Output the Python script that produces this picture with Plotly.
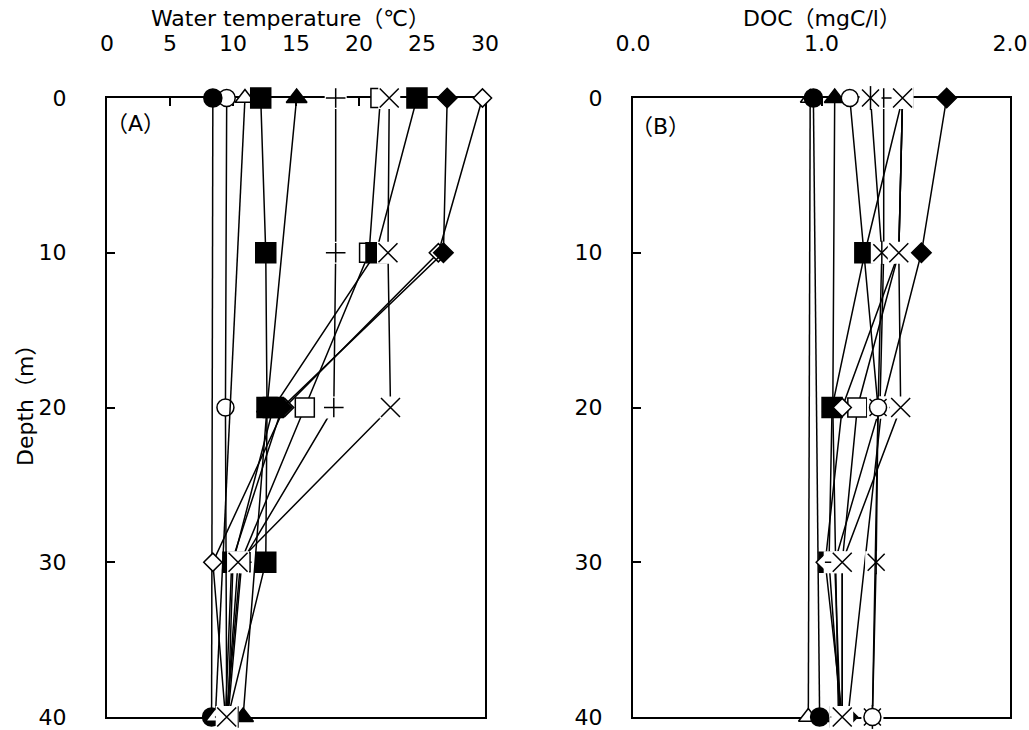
import plotly.graph_objects as go

# ---------------- data ----------------
depth = [0, 10, 20, 30, 40]

# Panel A : water temperature (deg C) at each depth (None = not measured)
temp_open_circle = [9.5, None, 9.4, None, 9.5]
temp_filled_circle = [8.4, None, None, None, 8.3]
temp_open_triangle = [10.95, None, None, None, 8.6]
temp_filled_triangle = [15.05, None, 12.7, None, 10.8]
temp_filled_square1 = [12.2, 12.6, 12.7, 12.6, 9.6]
temp_open_diamond = [29.8, 26.3, 14.1, 8.4, 9.4]
temp_filled_diamond = [27.0, 26.7, 13.9, 9.9, 9.4]
temp_plus = [18.15, 18.15, 18.0, 10.7, 9.6]
temp_open_square = [21.7, 20.8, 15.7, 10.6, 9.5]
temp_filled_square2 = [24.6, 21.35, 13.2, 10.0, 9.6]
temp_x = [22.4, 22.3, 22.5, 10.4, 9.5]

# Panel B : DOC (mgC/l)
doc_open_triangle = [0.94, None, None, None, 0.93]
doc_filled_circle = [0.957, None, None, None, 0.99]
doc_filled_triangle = [1.07, None, 1.06, None, 1.09]
doc_filled_square = [1.43, 1.23, 1.056, 1.04, 1.10]
doc_open_square = [1.43, 1.41, 1.19, 1.11, 1.11]
doc_open_diamond = [1.43, 1.41, 1.11, 1.02, 1.11]
doc_filled_diamond = [1.664, 1.53, 1.32, None, 1.14]
doc_plus = [1.33, 1.33, 1.31, 1.07, 1.10]
doc_star = [1.26, 1.32, 1.30, 1.29, 1.27]
doc_open_circle = [1.15, None, 1.30, None, 1.27]
doc_x = [1.43, 1.41, 1.42, 1.11, 1.11]

temp_ticks = [0, 5, 10, 15, 20, 25, 30]
doc_ticks = [0.0, 1.0, 2.0]
doc_ticktext = ["0.0", "1.0", "2.0"]
depth_ticks = [0, 10, 20, 30, 40]

FONT = "DejaVu Sans, Noto Sans CJK JP"
FS = 22
W, H = 1029, 730

# (symbol, fill colour, size, needs white background square)
STYLE = {
    "filled_circle": ("circle", "black", 18, False),
    "open_circle": ("circle", "white", 17, False),
    "open_triangle": ("triangle-up", "white", 17, False),
    "filled_triangle": ("triangle-up", "black", 18, False),
    "filled_square": ("square", "black", 20, False),
    "open_square": ("square", "white", 19, False),
    "filled_diamond": ("diamond", "black", 15, False),
    "open_diamond": ("diamond", "white", 14, False),
    "plus": ("cross-thin", "black", 14, True),
    "x": ("x-thin", "black", 19, True),
    "star": ("x-thin", "black", 17, True),
}

fig = go.Figure()


def add_series(vals, kind, xa, ya):
    sym, fill, size, bg = STYLE[kind]
    xs = list(vals)
    if not bg:
        fig.add_trace(go.Scatter(
            x=xs, y=depth, xaxis=xa, yaxis=ya, mode="lines+markers",
            connectgaps=True, cliponaxis=False, showlegend=False,
            line=dict(color="black", width=1.5),
            marker=dict(symbol=sym, size=size, color=fill,
                        line=dict(color="black", width=1.5))))
        return
    fig.add_trace(go.Scatter(
        x=xs, y=depth, xaxis=xa, yaxis=ya, mode="lines", connectgaps=True,
        cliponaxis=False, showlegend=False,
        line=dict(color="black", width=1.5)))
    fig.add_trace(go.Scatter(
        x=xs, y=depth, xaxis=xa, yaxis=ya, mode="markers", cliponaxis=False,
        showlegend=False,
        marker=dict(symbol="square", size=22, color="white",
                    line=dict(width=0))))
    fig.add_trace(go.Scatter(
        x=xs, y=depth, xaxis=xa, yaxis=ya, mode="markers", cliponaxis=False,
        showlegend=False,
        marker=dict(symbol=sym, size=size, color="black",
                    line=dict(color="black", width=1.5))))
    if kind == "star":
        fig.add_trace(go.Scatter(
            x=xs, y=depth, xaxis=xa, yaxis=ya, mode="markers",
            cliponaxis=False, showlegend=False,
            marker=dict(symbol="line-ns", size=size, color="black",
                        line=dict(color="black", width=1.5))))


# Panel A
for vals, kind in [
    (temp_open_circle, "open_circle"),
    (temp_filled_circle, "filled_circle"),
    (temp_open_triangle, "open_triangle"),
    (temp_filled_triangle, "filled_triangle"),
    (temp_filled_square1, "filled_square"),
    (temp_open_diamond, "open_diamond"),
    (temp_filled_diamond, "filled_diamond"),
    (temp_plus, "plus"),
    (temp_open_square, "open_square"),
    (temp_filled_square2, "filled_square"),
    (temp_x, "x"),
]:
    add_series(vals, kind, "x", "y")

# Panel B
for vals, kind in [
    (doc_open_triangle, "open_triangle"),
    (doc_filled_circle, "filled_circle"),
    (doc_filled_triangle, "filled_triangle"),
    (doc_filled_square, "filled_square"),
    (doc_open_square, "open_square"),
    (doc_open_diamond, "open_diamond"),
    (doc_filled_diamond, "filled_diamond"),
    (doc_plus, "plus"),
    (doc_star, "star"),
    (doc_open_circle, "open_circle"),
    (doc_x, "x"),
]:
    add_series(vals, kind, "x2", "y2")

ytop, ybot = 98, 717
ydom = [1 - ybot / H, 1 - ytop / H]

common_x = dict(side="top", ticks="inside", ticklen=8, tickwidth=1.5,
                tickcolor="black", showline=True, linecolor="black",
                linewidth=2, mirror=True, showgrid=False, zeroline=False,
                layer="below traces", ticklabelstandoff=36, automargin=False,
                ticklabeloverflow="allow",
                tickfont=dict(family=FONT, size=FS, color="black"))
common_y = dict(ticks="inside", ticklen=8, tickwidth=1.5, tickcolor="black",
                showline=True, linecolor="black", linewidth=2, mirror=True,
                showgrid=False, zeroline=False, layer="below traces",
                range=[40, 0], tickvals=depth_ticks, automargin=False,
                ticklabeloverflow="allow",
                tickfont=dict(family=FONT, size=FS, color="black"))


def ann(text, x, y, angle=0):
    return dict(text=text, x=x / W, y=1 - y / H, xref="paper", yref="paper",
                xanchor="center", yanchor="middle", showarrow=False,
                textangle=angle, font=dict(family=FONT, size=FS, color="black"))


fig.update_layout(
    template="none",
    width=W, height=H,
    margin=dict(l=0, r=0, t=0, b=0, autoexpand=False),
    paper_bgcolor="white", plot_bgcolor="white",
    font=dict(family=FONT, color="black"),
    showlegend=False,
    xaxis=dict(domain=[107 / W, 485 / W], range=[0, 30], tickvals=temp_ticks,
               anchor="y", **common_x),
    yaxis=dict(domain=ydom, anchor="x", ticklabelstandoff=34, **common_y),
    xaxis2=dict(domain=[633 / W, 1010 / W], range=[0, 2], tickvals=doc_ticks,
                ticktext=doc_ticktext, anchor="y2", **common_x),
    yaxis2=dict(domain=ydom, anchor="x2", ticklabelstandoff=24, **common_y),
    annotations=[
        ann("Water temperature（℃）", 290, 18),
        ann("DOC（mgC/l）", 822, 18),
        ann("Depth（m）", 25, 400, -90),
        ann("（A）", 135, 124),
        ann("（B）", 660, 126),
    ],
)

fig.write_html("out.html")
